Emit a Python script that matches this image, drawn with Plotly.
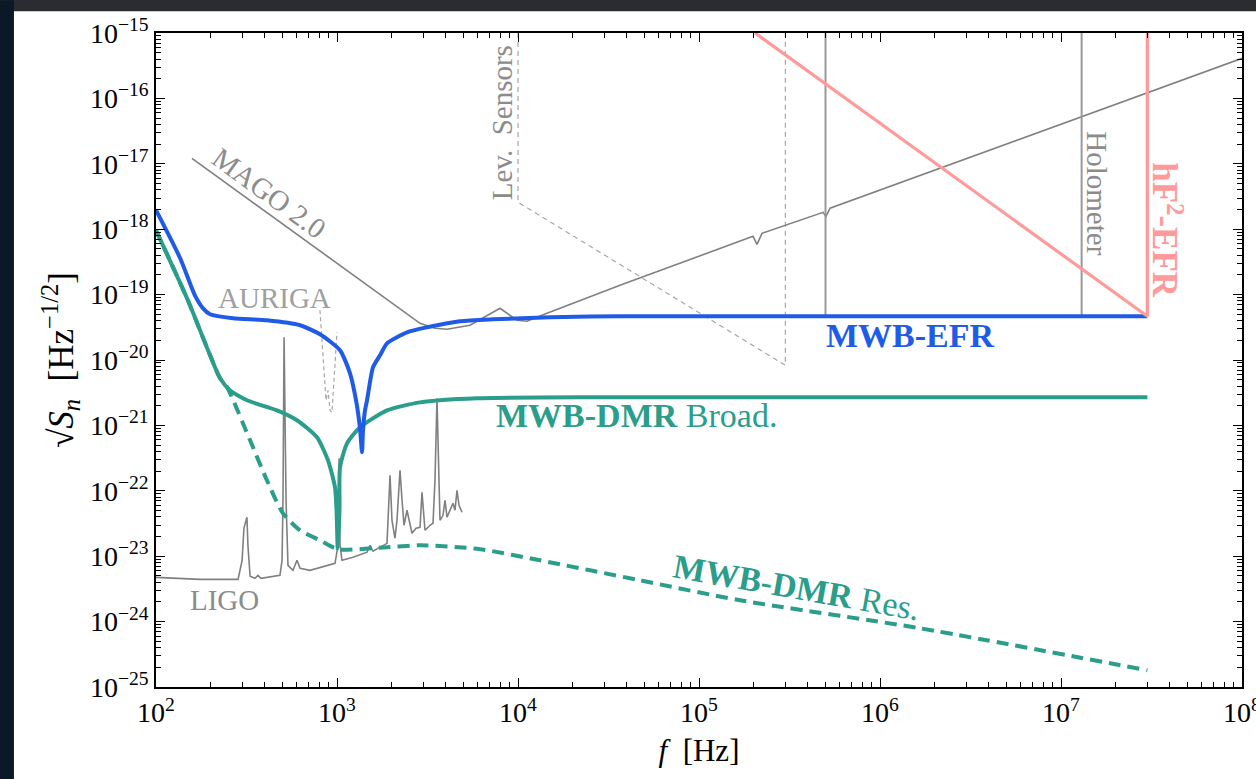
import plotly.graph_objects as go

# ---------------- data ----------------
blue_f = [100, 136, 164, 182, 199, 266, 410, 625, 805, 1039, 1180, 1274, 1340, 1375,
          1392, 1428, 1465, 1581, 1729, 1889, 2436, 3142, 4782, 7278, 15025, 36600, 3.0e7]
blue_s = [1.95e-18, 3.59e-19, 9.75e-20, 6.17e-20, 5.0e-20, 4.35e-20, 4.05e-20, 3.40e-20,
          2.47e-20, 1.41e-20, 6.27e-21, 2.42e-21, 9.04e-22, 3.88e-22,
          8.41e-22, 1.70e-21, 2.42e-21, 7.73e-21, 1.18e-20, 1.80e-20, 2.65e-20, 3.16e-20,
          3.91e-20, 4.19e-20, 4.50e-20, 4.66e-20, 4.66e-20]

green_f = [100, 150, 199, 226, 256, 318, 466, 601, 775, 892, 975, 994, 1010, 1032, 1039,
           1136, 1340, 1889, 2875, 5935, 28380, 3.0e7]
green_s = [9.62e-19, 8.18e-20, 1.18e-20, 5.25e-21, 3.44e-21, 2.42e-21, 1.70e-21, 1.20e-21,
           6.58e-22, 2.92e-22, 1.13e-22, 5.04e-23, 1.3e-23, 5.04e-23, 2.29e-22,
           5.32e-22, 9.35e-22, 1.70e-21, 2.25e-21, 2.60e-21, 2.69e-21, 2.69e-21]

res_f = [100, 150, 199, 226, 247, 331, 410, 503, 625, 805, 1013, 1889, 2875, 6166,
         13230, 47210, 168500, 1.663e6, 3.0e7]
res_s = [9.62e-19, 8.18e-20, 1.18e-20, 5.25e-21, 3.83e-21, 5.91e-22, 1.45e-22, 4.53e-23,
         2.49e-23, 1.75e-23, 1.28e-23, 1.37e-23, 1.47e-23, 1.28e-23, 8.65e-24, 4.28e-24,
         2.12e-24, 7.91e-25, 1.80e-25]

ligo_f = [100, 175, 284, 299, 306, 314, 318, 322, 331, 352, 366, 380, 484, 497, 503, 510,
          516, 523, 536, 571, 601, 625, 709, 975, 1013, 1026, 1039, 1066, 1226, 1465, 1521,
          1581, 1889, 1938, 1963, 2013, 2091, 2145, 2229, 2287, 2346, 2436, 2499, 2596,
          2733, 2875, 2949, 3063, 3265, 3392, 3478, 3568, 3660, 3708, 3851, 3951, 4053,
          4210, 4374, 4487, 4603, 4721, 4905]
ligo_s = [4.75e-24, 4.43e-24, 4.43e-24, 8.65e-24, 2.67e-23, 3.54e-23, 3.94e-23, 1.47e-23,
          4.93e-24, 4.59e-24, 5.10e-24, 4.59e-24, 5.10e-24, 8.65e-24, 7.16e-23, 2.22e-20,
          2.42e-21, 7.16e-23, 7.26e-24, 6.08e-24, 8.65e-24, 6.53e-24, 6.08e-24, 7.78e-24,
          1.47e-23, 3.14e-22, 1.47e-23, 8.65e-24, 9.61e-24, 1.15e-23, 1.47e-23,
          1.19e-23, 1.57e-23, 7.16e-23, 1.73e-22, 3.54e-23, 1.88e-23, 3.54e-23, 2.06e-22,
          7.16e-23, 2.97e-23, 5.04e-23, 3.54e-23, 2.24e-23,
          2.67e-23, 2.77e-23, 9.49e-23, 2.49e-23, 2.97e-23, 3.19e-23, 1.45e-22, 2.60e-21,
          1.45e-22, 3.54e-23, 4.22e-23, 7.16e-23, 3.94e-23,
          5.04e-23, 6.44e-23, 5.04e-23, 1.02e-22, 6.01e-23, 4.70e-23]

mago_f = [158, 2875, 3478, 4053, 5428, 7955, 9874, 11210, 14460, 36600, 198800, 209100,
          222900, 484300, 503100, 529500, 1e8]
mago_s = [1.21e-17, 3.64e-20, 3.05e-20, 2.95e-20, 3.40e-20, 6.18e-20, 4.05e-20, 3.91e-20,
          5.18e-20, 1.39e-19, 7.78e-19, 5.87e-19, 8.65e-19, 1.81e-18, 1.57e-18, 2.09e-18,
          4.10e-16]

auriga_f = [805, 848, 870, 892, 915, 938, 962, 1000]
auriga_s = [5.75e-20, 6.97e-21, 2.42e-21, 3.44e-21, 1.70e-21, 1.58e-21, 4.90e-21, 2.65e-20]

lev_f = [1.0e4, 1.0e4, 3.0e5, 3.0e5]
lev_s = [1e-15, 2.58e-18, 8.30e-21, 1e-15]

holo_f = [5.0e5, 1.3e7]
holo_top = 1e-15
holo_bottom = 4.66e-20

hf_f = [2.04e5, 3.0e7, 3.0e7]
hf_s = [1e-15, 4.66e-20, 1e-15]

x_exps = [2, 3, 4, 5, 6, 7, 8]
y_exps = [-25, -24, -23, -22, -21, -20, -19, -18, -17, -16, -15]

# ---------------- styles ----------------
FONT = "Liberation Serif"
BLUE = "#1f5be6"
TEAL = "#2a9d8b"
RED = "#ff9a9a"
GRAY = "#808080"
LGRAY = "#a6a6a6"

fig = go.Figure()

def line(x, y, color, width, dash=None, shape="linear", smooth=None):
    ln = dict(color=color, width=width, dash=dash, shape=shape)
    if smooth is not None:
        ln["smoothing"] = smooth
    fig.add_trace(go.Scatter(x=x, y=y, mode="lines", line=ln,
                             hoverinfo="skip", showlegend=False))

line(lev_f, lev_s, LGRAY, 1.2, "5px,4px")
line(auriga_f, auriga_s, LGRAY, 1.2, "4px,3px")
line(ligo_f, ligo_s, GRAY, 1.6)
line(mago_f, mago_s, GRAY, 1.6)
for hf in holo_f:
    line([hf, hf], [holo_top, holo_bottom], "#999999", 2)
line(res_f, res_s, TEAL, 4, "12px,7px", "spline", 0.7)
line(green_f, green_s, TEAL, 4, None, "spline", 0.6)
line(blue_f, blue_s, BLUE, 4, None, "spline", 0.6)
line(hf_f, hf_s, RED, 3.2)

# ---------------- axes ----------------
minor_x = [m * 10 ** k for k in range(2, 8) for m in range(2, 10)]
minor_y = [m * 10.0 ** k for k in range(-25, -15) for m in range(2, 10)]

axis_common = dict(type="log", showline=True, linecolor="black", linewidth=1.5,
                   mirror="ticks", ticks="inside", ticklen=9, tickwidth=1.3,
                   tickcolor="black", showgrid=False, zeroline=False,
                   ticklabeloverflow="allow", automargin=False,
                   tickfont=dict(family=FONT, size=28, color="black"))

fig.update_xaxes(**axis_common, range=[2, 8],
                 tickmode="array", tickvals=[10 ** e for e in x_exps],
                 ticktext=[f"10<sup>{e}</sup>" for e in x_exps],
                 minor=dict(tickmode="array", tickvals=minor_x, ticks="inside",
                            ticklen=5, tickwidth=1, tickcolor="black", showgrid=False),
                 title=dict(text="<i>f</i>  [Hz]", font=dict(family=FONT, size=31, color="black"),
                            standoff=12))
fig.update_yaxes(**axis_common, range=[-25, -15],
                 tickmode="array", tickvals=[10.0 ** e for e in y_exps],
                 ticktext=[f"10<sup>\u2212{abs(e)}</sup>" for e in y_exps],
                 minor=dict(tickmode="array", tickvals=minor_y, ticks="inside",
                            ticklen=5, tickwidth=1, tickcolor="black", showgrid=False),
                 title=dict(text="\u221a<i>S</i><sub><i>n</i></sub>  [Hz<sup>\u22121/2</sup>]",
                            font=dict(family=FONT, size=35, color="black"), standoff=6))

# ---------------- annotations ----------------
def label(text, xp, yp, color, size, angle=0):
    fig.add_annotation(text=text, x=xp, y=yp, xref="paper", yref="paper",
                       showarrow=False, textangle=angle, xanchor="center", yanchor="middle",
                       font=dict(family=FONT, size=size, color=color))

label("MAGO 2.0", 0.1041, 0.7549, "#8c8c8c", 29, 36)
label("AURIGA", 0.1087, 0.5943, "#a0a0a0", 29)
label("LIGO", 0.0635, 0.1326, "#8c8c8c", 29)
label("Lev.  Sensors", 0.3186, 0.8635, "#8c8c8c", 29, -90)
label("Holometer", 0.8665, 0.7549, "#8c8c8c", 29, 90)
label("<b>hF<sup>2</sup>-EFR</b>", 0.9309, 0.6983, RED, 35, 90)
label("<b>MWB-EFR</b>", 0.6952, 0.5378, BLUE, 34)
label("<b>MWB-DMR</b> Broad.", 0.442, 0.4154, TEAL, 34)
label("<b>MWB-DMR</b> Res.", 0.5902, 0.1524, TEAL, 34, 10)

# ---------------- slide background ----------------
fig.add_shape(type="rect", xref="paper", yref="paper", x0=-0.1436, x1=-0.1308,
              y0=-0.1411, y1=1.05, fillcolor="#0b1828", line=dict(width=0), layer="below")
fig.add_shape(type="rect", xref="paper", yref="paper", x0=-0.1308, x1=1.0129,
              y0=-0.1411, y1=1.0332, fillcolor="white", line=dict(width=0), layer="below")

fig.update_layout(width=1256, height=779,
                  margin=dict(l=156, r=14, t=33, b=92, autoexpand=False),
                  paper_bgcolor="#2a2c2f", plot_bgcolor="white",
                  showlegend=False)

fig.write_html("out.html", config={"displayModeBar": False},
               post_script="document.body.style.margin='0';document.body.style.overflow='hidden';")
